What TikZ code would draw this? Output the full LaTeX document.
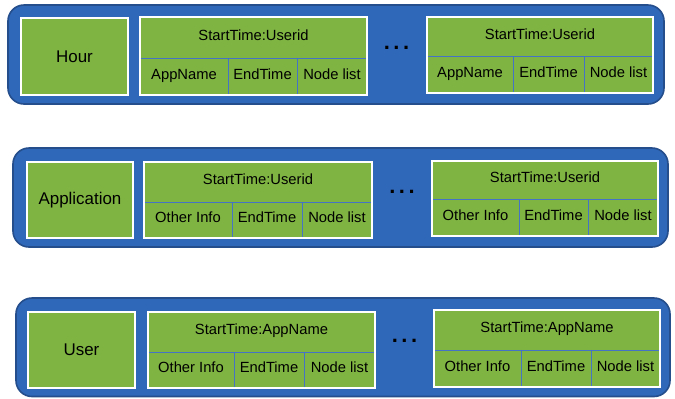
\documentclass[tikz,border=0pt]{standalone}
\usepackage{fontspec}
\setmainfont{Liberation Sans}
\definecolor{grn}{RGB}{127,180,66}
\definecolor{boxblue}{RGB}{47,103,185}
\definecolor{bordblue}{RGB}{37,78,140}
\definecolor{divblue}{RGB}{68,114,196}
\tikzset{
  outerbox/.style={draw=bordblue, line width=1.6bp, fill=boxblue, rounded corners=16bp},
  lblbox/.style={draw=white, line width=2bp, fill=grn, inner sep=0pt,
                 font=\fontsize{17}{19}\selectfont},
  cell/.style={fill=grn, inner sep=0pt, text height=0.72em, text depth=0.2em,
               font=\fontsize{14.8}{16}\selectfont},
  frame/.style={draw=white, line width=2bp},
  divline/.style={draw=divblue, line width=0.8bp},
  dotsnode/.style={inner sep=0pt, font=\fontsize{22}{22}\selectfont\bfseries}
}
% #1 name, #2 x1, #3 x2, #4 top, #5 mid, #6 bottom, #7 v1, #8 v2, #9 top text
\newcommand\myrec[9]{%
  \node[cell, minimum width={(#3-#2)*1bp}, minimum height={(#5-#4)*1bp}] (#1t) at ({(#2+#3)/2},{(#4+#5)/2}) {#9};
  \node[cell, minimum width={(#7-#2)*1bp}, minimum height={(#6-#5)*1bp}] (#1a) at ({(#2+#7)/2},{(#5+#6)/2}) {\firstcell};
  \node[cell, minimum width={(#8-#7)*1bp}, minimum height={(#6-#5)*1bp}] (#1b) at ({(#7+#8)/2},{(#5+#6)/2}) {EndTime};
  \node[cell, minimum width={(#3-#8)*1bp}, minimum height={(#6-#5)*1bp}] (#1c) at ({(#8+#3)/2},{(#5+#6)/2}) {Node list};
  \draw[divline] (#1t.south west) -- (#1t.south east);
  \draw[divline] (#1a.north east) -- (#1a.south east);
  \draw[divline] (#1b.north east) -- (#1b.south east);
  \draw[frame] (#1t.north west) rectangle (#1c.south east);
}
\begin{document}
\begin{tikzpicture}[x=1bp, y=-1bp]
\useasboundingbox (0,0) rectangle (675,398);
\fill[white] (0,0) rectangle (675,398);

% Row 1: Hour
\draw[outerbox] (8,5) rectangle (664,104);
\node[lblbox, minimum width=107bp, minimum height=77bp] (hour) at (74.5,56.5) {Hour};
\def\firstcell{AppName}
\myrec{ha}{140}{367}{17}{58}{95}{228}{297}{StartTime:Userid}
\node[dotsnode] (hdots) at (396.5,48) {.\hspace{3.5bp}.\hspace{3.5bp}.};
\myrec{hb}{427}{653}{17}{56}{93}{513}{584}{StartTime:Userid}

% Row 2: Application
\draw[outerbox] (13,148) rectangle (668,247);
\node[lblbox, minimum width=106bp, minimum height=76bp] (app) at (80,200) {Application};
\def\firstcell{Other Info}
\myrec{aa}{144}{372}{162}{202}{238}{232}{302}{StartTime:Userid}
\node[dotsnode] (adots) at (402,192) {.\hspace{3.5bp}.\hspace{3.5bp}.};
\myrec{ab}{432}{658}{161}{199}{236}{519}{588}{StartTime:Userid}

% Row 3: User
\draw[outerbox] (16,298) rectangle (670,396.5);
\node[lblbox, minimum width=107bp, minimum height=76bp] (user) at (81.5,350) {User};
\myrec{ua}{148}{375}{312}{352}{388}{234}{304}{StartTime:AppName}
\node[dotsnode] (udots) at (404.5,341) {.\hspace{3.5bp}.\hspace{3.5bp}.};
\myrec{ub}{434}{660}{310}{350}{387}{521}{591}{StartTime:AppName}
\end{tikzpicture}
\end{document}
